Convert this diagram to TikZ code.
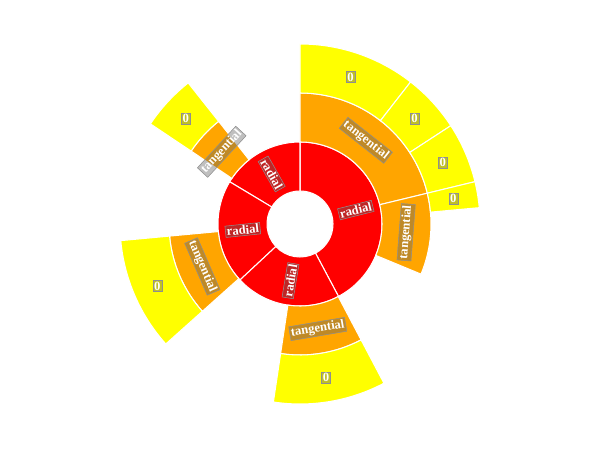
\documentclass[tikz,border=0pt]{standalone}
\usepackage{fontspec}
\setmainfont{Liberation Serif}
\usepackage{tikz}
\definecolor{Ring1}{RGB}{255,0,0}
\definecolor{Ring2}{RGB}{255,165,0}
\definecolor{Ring3}{RGB}{255,255,0}
\definecolor{Halo}{RGB}{95,95,95}
\tikzset{
  wedge/.style={draw=white,line width=0.6pt},
  tag/.style={draw=Halo!70,line width=0.3pt,fill=Halo,fill opacity=0.4,text opacity=1,text=white,inner sep=0.7pt,font=\fontsize{7.2}{8}\selectfont\bfseries}
}
% one ring sector: colour, from, to, inner radius, outer radius
\newcommand{\drawsector}[5]{%
  \filldraw[wedge,fill=#1] (#2:#4) -- (#2:#5) arc[start angle=#2,end angle=#3,radius=#5]
    -- (#3:#4) arc[start angle=#3,end angle=#2,radius=#4] -- cycle;}

\begin{document}
\begin{tikzpicture}[x=0.02cm,y=0.02cm]
\useasboundingbox (0,0) rectangle (600,450);
\begin{scope}[shift={(300,226)}]
% inner ring
\foreach \a/\b in {-62/90,90/149,149/223,223/298}
  \drawsector{Ring1}{\a}{\b}{33}{82};
% middle ring
\foreach \a/\b in {13.6/90,-22.5/13.6,128.4/146.2,185.3/221.8,261.5/297.8}
  \drawsector{Ring2}{\a}{\b}{82}{131};
% outer ring
\foreach \a/\b in {52.1/90,33.1/52.1,13.6/33.1,5.2/13.6,128.4/146.2,185.3/221.8,261.5/297.8}
  \drawsector{Ring3}{\a}{\b}{131}{180};
% labels
\foreach \m/\r [count=\i] in {14/14,119.5/-60.5,186/6,260.5/80.5}
  \node[tag,rotate=\r] (radial\i) at (\m:57.5) {radial};
\foreach \m/\r [count=\i] in {51.8/-38.2,-4.45/85.55,137.3/47.3,203.5/-66.5,279.6/9.6}
  \node[tag,rotate=\r] (tangential\i) at (\m:106.5) {tangential};
\foreach \m [count=\i] in {71,42.6,23.35,9.4,137.3,203.5,279.6}
  \node[tag] (zero\i) at (\m:155.5) {0};
\end{scope}
\end{tikzpicture}
\end{document}
